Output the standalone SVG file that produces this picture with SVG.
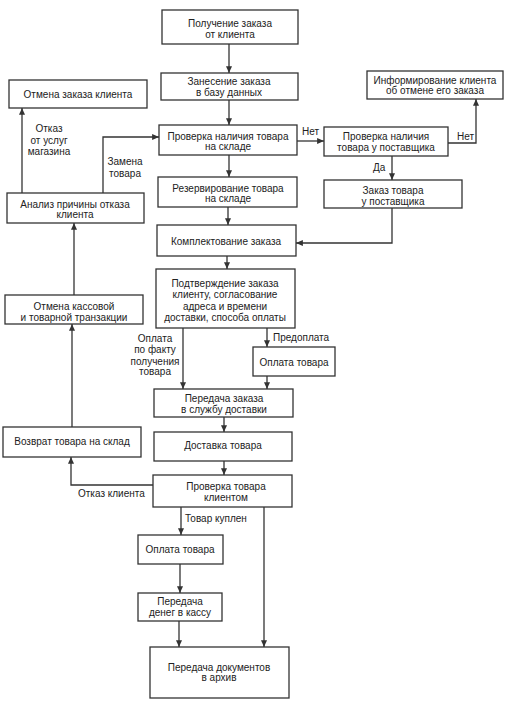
<svg xmlns="http://www.w3.org/2000/svg" width="522" height="705" viewBox="0 0 522 705">
<defs>
<marker id="ah" viewBox="0 0 8 7" refX="8" refY="3.5" markerWidth="7" markerHeight="6" markerUnits="userSpaceOnUse" orient="auto">
<path d="M0,0 L8,3.5 L0,7 z" fill="#333"/>
</marker>
<style>
rect{fill:#fff;stroke:#333;stroke-width:1.3}
text{font-family:"Liberation Sans",Arial,sans-serif;font-size:10px;fill:#222;text-anchor:middle}
.l{text-anchor:start}
#connectors path{fill:none;stroke:#333;stroke-width:1.3;marker-end:url(#ah)}
</style>
</defs>
<rect x="0" y="0" width="522" height="705" style="fill:#fff;stroke:none"/>
<g id="connectors">
<path d="M229,44 V73"/>
<path d="M229,100 V125"/>
<path d="M297,141 H324"/>
<path d="M448,143 H476 V99"/>
<path d="M392,156 V180"/>
<path d="M229,155 V177"/>
<path d="M228,207 V225"/>
<path d="M392,208 V243 H296"/>
<path d="M227,256 V269"/>
<path d="M267,328 V347"/>
<path d="M183,328 V389"/>
<path d="M267,376 V389"/>
<path d="M224,417 V432"/>
<path d="M224,461 V475"/>
<path d="M153,485 H71 V457"/>
<path d="M72,427 V324"/>
<path d="M74,295 V223"/>
<path d="M22,193 V108"/>
<path d="M103,193 V137 H159"/>
<path d="M181,507 V535"/>
<path d="M180,564 V593"/>
<path d="M179,621 V647"/>
<path d="M264,507 V647"/>
</g>
<g id="labels">
<text x="49" y="131.5">Отказ</text>
<text x="49" y="143.5">от услуг</text>
<text x="49" y="155">магазина</text>
<text x="125" y="164.5">Замена</text>
<text x="125" y="176.5">товара</text>
<text class="l" x="302" y="134.5">Нет</text>
<text class="l" x="457" y="139.5">Нет</text>
<text class="l" x="373" y="170.5">Да</text>
<text class="l" x="273" y="340.5">Предоплата</text>
<text x="155" y="341.5">Оплата</text>
<text x="155" y="353">по факту</text>
<text x="155" y="364.5">получения</text>
<text x="155" y="375">товара</text>
<text class="l" x="78" y="496.5">Отказ клиента</text>
<text class="l" x="185" y="521.5">Товар куплен</text>
</g>
<g id="n1"><rect x="162" y="10" width="136" height="34"/><text x="230" y="26.5">Получение заказа</text><text x="230" y="37.5">от клиента</text></g>
<g id="n2"><rect x="161" y="73" width="137" height="27"/><text x="229" y="85">Занесение заказа</text><text x="229" y="96">в базу данных</text></g>
<g id="n3"><rect x="9" y="80" width="138" height="28"/><text x="78" y="97.5">Отмена заказа клиента</text></g>
<g id="n4"><rect x="367" y="71" width="136" height="28"/><text x="435" y="83.5">Информирование клиента</text><text x="435" y="93.5">об отмене его заказа</text></g>
<g id="n5"><rect x="159" y="125" width="138" height="30"/><text x="228" y="140">Проверка наличия товара</text><text x="228" y="149.5">на складе</text></g>
<g id="n6"><rect x="324" y="127" width="124" height="29"/><text x="386" y="139.5">Проверка наличия</text><text x="386" y="150.5">товара у поставщика</text></g>
<g id="n7"><rect x="158" y="177" width="139" height="30"/><text x="228" y="191.5">Резервирование товара</text><text x="228" y="201.5">на складе</text></g>
<g id="n8"><rect x="324" y="180" width="138" height="28"/><text x="393" y="193.5">Заказ товара</text><text x="393" y="204.5">у поставщика</text></g>
<g id="n9"><rect x="7" y="193" width="137" height="30"/><text x="75" y="207.5">Анализ причины отказа</text><text x="75" y="217.5">клиента</text></g>
<g id="n10"><rect x="157" y="225" width="139" height="31"/><text x="226" y="244.5">Комплектование заказа</text></g>
<g id="n11"><rect x="156" y="269" width="139" height="59"/><text x="225" y="286.5">Подтверждение заказа</text><text x="225" y="298">клиенту, согласование</text><text x="225" y="309.5">адреса и времени</text><text x="225" y="320.5">доставки, способа оплаты</text></g>
<g id="n12"><rect x="5" y="295" width="138" height="29"/><text x="74" y="309.5">Отмена кассовой</text><text x="74" y="320.5">и товарной транзакции</text></g>
<g id="n13"><rect x="253" y="347" width="82" height="29"/><text x="294" y="365.5">Оплата товара</text></g>
<g id="n14"><rect x="154" y="389" width="139" height="28"/><text x="224" y="401.5">Передача заказа</text><text x="224" y="412.5">в службу доставки</text></g>
<g id="n15"><rect x="154" y="432" width="138" height="29"/><text x="223" y="449">Доставка товара</text></g>
<g id="n16"><rect x="3" y="427" width="138" height="30"/><text x="72" y="444.5">Возврат товара на склад</text></g>
<g id="n17"><rect x="153" y="475" width="139" height="32"/><text x="226" y="489.5">Проверка товара</text><text x="226" y="500.5">клиентом</text></g>
<g id="n18"><rect x="138" y="535" width="85" height="29"/><text x="180" y="552.5">Оплата товара</text></g>
<g id="n19"><rect x="138" y="593" width="84" height="28"/><text x="180" y="604.5">Передача</text><text x="180" y="615.5">денег в кассу</text></g>
<g id="n20"><rect x="150" y="647" width="139" height="51"/><text x="219" y="670.5">Передача документов</text><text x="219" y="680.5">в архив</text></g>
</svg>
